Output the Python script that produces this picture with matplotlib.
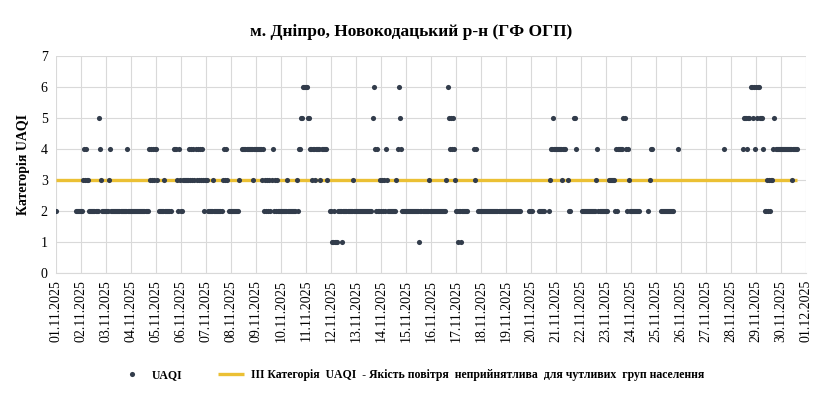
import numpy as np
import pandas as pd
import matplotlib.pyplot as plt

plt.rcParams['font.family'] = ['Liberation Serif', 'DejaVu Serif']

title = 'м. Дніпро, Новокодацький р-н (ГФ ОГП)'
ylabel = 'Категорія UAQI'
series_name = 'UAQI'
threshold_name = 'III Категорія  UAQI  - Якість повітря  неприйнятлива  для чутливих  груп населення'
threshold = 3
start = '2025-11-01'

# категорія UAQI по годинах: один рядок = одна доба (00..23 год), '.' = немає даних
days = [
    '2..................22222',  # 01.11
    '223434332222222225432222',  # 02.11
    '222342222222222222224222',  # 03.11
    '222222222222222224343434',  # 04.11
    '43.222223222222..4443243',  # 05.11
    '223333334343434343434323',  # 06.11
    '332222232222222234343.22',  # 07.11
    '222222223..4444444444344',  # 08.11
    '444444342323232342323222',  # 09.11
    '222222322222222324455666',  # 10.11
    '665544344344443444443..2',  # 11.11
    '211211122221222222222322',  # 12.11
    '222222222222222256424223',  # 13.11
    '232324322222222346542222',  # 14.11
    '222222222222212222222232',  # 15.11
    '222222222222222365454543',  # 16.11
    '221221222222.....434.222',  # 17.11
    '222222222222222222222222',  # 18.11
    '222222222222222.......22',  # 19.11
    '.2......222222...2344544',  # 20.11
    '4444443444..322..554....',  # 21.11
    '.22222222222222342222222',  # 22.11
    '22.333333242444445542432',  # 23.11
    '222222222........2344...',  # 24.11
    '.....2222222222222...4..',  # 25.11
    '........................',  # 26.11
    '..................4.....',  # 27.11
    '............455545566564',  # 28.11
    '65665554.223232334544444',  # 29.11
    '44444444444344444.......',  # 30.11
]

vals = np.array([np.nan if c == '.' else float(c) for d in days for c in d])
hours = pd.date_range(start, periods=len(vals), freq='h')
last = hours[np.where(~np.isnan(vals))[0][-1]]

tick_dates = pd.date_range(start, '2025-12-01', freq='D')
tick_labels = tick_dates.strftime('%d.%m.%Y')

fig = plt.figure(figsize=(8.23, 3.94), dpi=100)
ax = fig.add_axes([0.068, 0.307, 0.911, 0.551])

ax.plot([hours[0], last], [threshold, threshold], color='#EBC034', lw=2.4,
        solid_capstyle='butt', zorder=2, label=threshold_name)
ax.plot(hours, vals, 'o', color='#323C4B', ms=3.7, mec='none', zorder=3,
        label=series_name)

ax.set_xlim(tick_dates[0], tick_dates[-1])
ax.set_ylim(0, 7)
ax.set_yticks(range(8))
ax.set_xticks(tick_dates)
ax.set_xticklabels(tick_labels, rotation=90, fontsize=10)
ax.tick_params(axis='y', labelsize=10, length=0, pad=6)
ax.tick_params(axis='x', length=0, pad=5)
ax.grid(True, color='#D9D9D9', lw=0.8)
ax.set_axisbelow(True)
for s in ax.spines.values():
    s.set_visible(False)
ax.spines['bottom'].set_visible(True)
ax.spines['bottom'].set_color('#D9D9D9')

ax.set_ylabel(ylabel, fontsize=10, fontweight='bold', labelpad=8)
fig.suptitle(title, fontsize=12.5, fontweight='bold', y=0.94)

h, l = ax.get_legend_handles_labels()
fig.legend(h[::-1], l[::-1], loc='center', bbox_to_anchor=(0.5, 0.048), ncol=2,
           frameon=False, prop={'weight': 'bold', 'size': 8.5},
           columnspacing=3.0, handlelength=2.2, handletextpad=0.6)

fig.savefig('out.png', dpi=100)
